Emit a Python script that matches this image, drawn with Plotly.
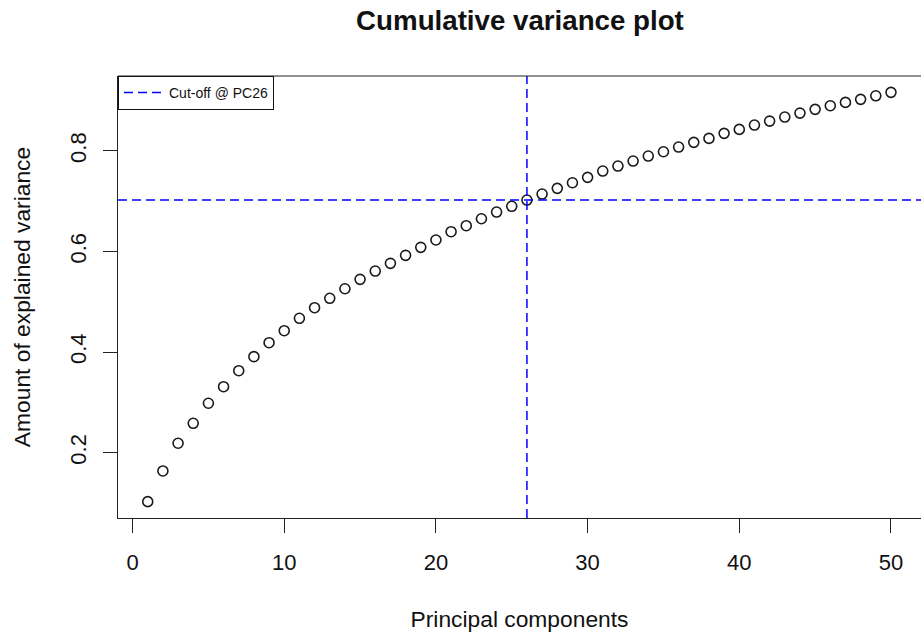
import plotly.graph_objects as go

# Principal component index
pcs = list(range(1, 51))
# Cumulative proportion of explained variance
cum_var = [0.1026, 0.1636, 0.2187, 0.2584, 0.2982, 0.3312, 0.3630, 0.3909, 0.4187, 0.4425,
           0.4672, 0.4883, 0.5070, 0.5260, 0.5447, 0.5612, 0.5765, 0.5924, 0.6083, 0.6229,
           0.6394, 0.6513, 0.6652, 0.6785, 0.6899, 0.7024, 0.7143, 0.7256, 0.7368, 0.7475,
           0.7600, 0.7700, 0.7799, 0.7899, 0.7984, 0.8078, 0.8171, 0.8250, 0.8350, 0.8429,
           0.8515, 0.8594, 0.8674, 0.8753, 0.8827, 0.8899, 0.8966, 0.9026, 0.9097, 0.9165]
cutoff_pc = 26
cutoff_label = "Cut-off @ PC26"
x_ticks = [0, 10, 20, 30, 40, 50]
y_ticks = [0.2, 0.4, 0.6, 0.8]

FONT = "Liberation Sans, Arial, Helvetica, sans-serif"
cut_val = cum_var[pcs.index(cutoff_pc)]

ymin, ymax = min(cum_var), max(cum_var)
yext = (ymax - ymin) * 0.04
xmin, xmax = min(pcs), max(pcs)
xext = (xmax - xmin) * 0.04

fig = go.Figure()
fig.add_trace(go.Scatter(
    x=pcs, y=cum_var, mode="markers", showlegend=False,
    marker=dict(symbol="circle-open", size=10, color="#1a1a1a", line=dict(width=1.6)),
))
# legend entry for the cut-off lines
fig.add_trace(go.Scatter(
    x=[None], y=[None], mode="lines", name=cutoff_label,
    line=dict(color="#0000ff", width=1.5, dash="9px,5px"),
))

# cut-off lines
fig.add_shape(type="line", xref="paper", yref="y", x0=0, x1=1, y0=cut_val, y1=cut_val,
              line=dict(color="#0000ff", width=1.5, dash="9px,5px"))
fig.add_shape(type="line", xref="x", yref="paper", x0=cutoff_pc, x1=cutoff_pc, y0=0, y1=1,
              line=dict(color="#0000ff", width=1.5, dash="9px,5px"))
# top border of the box
fig.add_shape(type="line", xref="paper", yref="paper", x0=0, x1=1, y0=1, y1=1,
              line=dict(color="#222222", width=1.2))

fig.update_layout(
    width=921, height=637,
    margin=dict(l=118, r=0, t=76, b=119, autoexpand=False),
    paper_bgcolor="white", plot_bgcolor="white",
    font=dict(family=FONT, color="#111111", size=22),
    title=dict(text="<b>Cumulative variance plot</b>", x=0.5646, xanchor="center",
               y=0.9674, yanchor="middle", font=dict(size=27.7, family=FONT, color="#111111")),
    legend=dict(x=0, y=1, xanchor="left", yanchor="top", bordercolor="#111111",
                borderwidth=1, bgcolor="white", font=dict(size=14, family=FONT),
                itemwidth=40, tracegroupgap=0),
    showlegend=True,
)
fig.update_xaxes(
    range=[xmin - xext, xmax + xext + 0.02], tickvals=x_ticks, ticks="outside", ticklen=14,
    tickwidth=1.2, tickcolor="#222222", showline=True, linecolor="#222222", linewidth=1.2,
    showgrid=False, zeroline=False, ticklabelstandoff=10, automargin=False,
    title=dict(text="Principal components", standoff=37, font=dict(size=22.8)),
)
fig.update_yaxes(
    range=[ymin - yext, ymax + yext], tickvals=y_ticks, ticktext=[str(v) for v in y_ticks],
    ticks="outside", ticklen=14, tickwidth=1.2, tickcolor="#222222", tickangle=-90,
    showline=True, linecolor="#222222", linewidth=1.2, showgrid=False, zeroline=False,
    ticklabelstandoff=8, automargin=False,
    title=dict(text="Amount of explained variance", standoff=29, font=dict(size=22.8)),
)

fig.write_html("out.html", config={"displayModeBar": False},
               post_script="document.body.style.margin='0';document.body.style.overflow='hidden';")
